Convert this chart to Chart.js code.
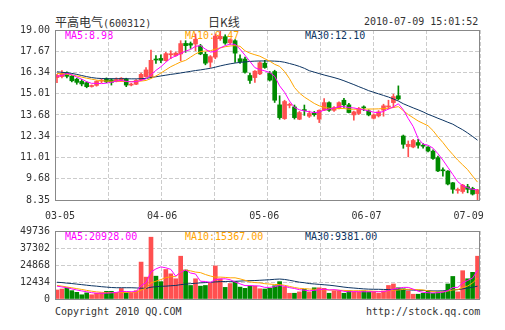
<!DOCTYPE html>
<html>
<head>
<meta charset="utf-8">
<script src="https://cdn.jsdelivr.net/npm/chart.js@4.4.0/dist/chart.umd.min.js"></script>
<style>
body { margin: 0; background: #fff; }
#wrap { position: relative; width: 505px; height: 330px; overflow: hidden;
        font-family: "DejaVu Sans Mono", monospace; font-size: 10px; color: #333; }
.t { position: absolute; white-space: nowrap; line-height: 12px; }
.cjk { font-family: "Noto Sans CJK SC", sans-serif; font-size: 12px; }
canvas { position: absolute; left: 0; }
</style>
</head>
<body>
<div id="wrap">
  <div class="t" style="left:55px; top:16px;"><span class="cjk">平高电气</span>(600312)</div>
  <div class="t cjk" style="left:208px; top:16px;">日K线</div>
  <div class="t" style="left:364px; top:16px;">2010-07-09 15:01:52</div>

  <div class="t" id="pMa5" style="left:65px; top:30px; color:#ff00ff;"></div>
  <div class="t" id="pMa10" style="left:185px; top:30px; color:#ffa500;"></div>
  <div class="t" id="pMa30" style="left:305px; top:30px; color:#0c3462;"></div>

  <div class="t" id="vMa5" style="left:65px; top:231px; color:#ff00ff;"></div>
  <div class="t" id="vMa10" style="left:185px; top:231px; color:#ffa500;"></div>
  <div class="t" id="vMa30" style="left:305px; top:231px; color:#0c3462;"></div>

  <div class="t" style="left:55px; top:306px;">Copyright 2010 QQ.COM</div>
  <div class="t" style="left:366px; top:306px;">http://stock.qq.com</div>

  <canvas id="price" width="505" height="226" style="top:0;"></canvas>
  <canvas id="vol" width="505" height="90" style="top:220px;"></canvas>
</div>
<script>
// daily candles 2010-03-05 .. 2010-07-09
var opens = [16.02, 16.08, 16.32, 16.11, 15.92, 15.78, 15.70, 15.46, 15.53, 15.80,
             15.95, 15.88, 15.78, 15.84, 15.92, 15.55, 15.60, 15.88, 16.08, 16.08,
             17.18, 17.22, 17.08, 17.45, 17.40, 17.50, 18.16, 18.15, 18.12, 18.00,
             17.48, 16.98, 17.30, 18.45, 18.58, 18.20, 18.33, 17.20, 17.18, 16.15,
             16.02, 16.25, 16.92, 16.28, 16.40, 14.31, 13.45, 14.28, 14.18, 13.41,
             13.99, 13.60, 13.80, 13.41, 13.97, 14.45, 13.97, 14.10, 14.60, 14.31,
             13.68, 13.77, 14.16, 13.93, 13.47, 13.62, 13.98, 14.18, 14.45, 14.88,
             12.36, 11.70, 11.67, 11.95, 11.75, 11.66, 11.41, 11.00, 10.24, 10.16,
             9.43, 8.95, 8.88, 9.18, 9.07, 8.75];
var highs = [16.22, 16.45, 16.38, 16.15, 15.98, 15.90, 15.75, 15.56, 15.82, 15.95,
             16.00, 15.95, 16.00, 16.02, 15.98, 15.66, 15.90, 16.30, 16.65, 17.74,
             17.40, 17.45, 17.60, 17.70, 17.62, 18.33, 18.33, 18.25, 18.75, 18.10,
             17.60, 17.40, 18.75, 19.00, 18.70, 18.45, 18.40, 17.45, 17.30, 16.28,
             16.45, 17.02, 17.10, 16.40, 16.48, 14.88, 14.60, 14.42, 14.30, 13.90,
             14.30, 13.92, 13.90, 14.00, 14.70, 14.50, 14.20, 14.50, 14.72, 14.40,
             13.92, 14.15, 14.25, 14.00, 13.75, 13.95, 14.35, 14.60, 14.98, 15.50,
             12.42, 12.05, 12.15, 12.15, 11.88, 11.70, 11.50, 11.10, 10.37, 10.20,
             9.45, 9.10, 9.33, 9.33, 9.15, 9.02];
var lows = [15.70, 16.00, 16.00, 15.75, 15.60, 15.50, 15.38, 15.42, 15.48, 15.70,
            15.70, 15.55, 15.75, 15.78, 15.45, 15.50, 15.57, 15.85, 16.05, 16.00,
            16.90, 16.95, 17.05, 17.20, 17.35, 17.07, 17.60, 17.85, 17.70, 17.45,
            16.82, 16.66, 17.20, 18.35, 18.10, 18.10, 16.97, 16.90, 16.30, 15.65,
            15.72, 16.20, 16.60, 15.80, 14.46, 13.41, 13.40, 14.12, 13.42, 13.38,
            13.65, 13.52, 13.60, 13.20, 13.95, 13.90, 13.90, 14.05, 14.15, 13.80,
            13.35, 13.70, 13.95, 13.62, 13.42, 13.55, 13.60, 14.05, 14.14, 14.62,
            11.59, 11.05, 11.62, 11.60, 11.60, 11.36, 10.90, 10.12, 9.85, 9.30,
            8.77, 8.77, 8.77, 8.80, 8.66, 8.35];
var closes = [16.15, 16.28, 16.10, 15.82, 15.72, 15.62, 15.45, 15.52, 15.78, 15.84,
              15.75, 15.72, 15.90, 15.98, 15.55, 15.60, 15.84, 16.22, 16.50, 17.10,
              17.12, 17.10, 17.52, 17.50, 17.55, 18.15, 18.02, 18.05, 18.42, 17.50,
              16.92, 17.33, 18.62, 18.60, 18.18, 18.40, 17.55, 17.02, 16.35, 15.84,
              16.42, 16.95, 16.65, 15.86, 14.60, 13.51, 14.52, 14.32, 13.51, 13.83,
              13.95, 13.77, 13.70, 13.97, 14.45, 13.97, 14.14, 14.45, 14.31, 13.83,
              13.87, 14.08, 14.12, 13.68, 13.68, 13.87, 14.25, 14.22, 14.83, 14.68,
              11.84, 11.84, 12.08, 11.78, 11.72, 11.42, 10.95, 10.17, 10.18, 9.35,
              9.02, 8.99, 9.28, 9.02, 8.72, 8.98];
var ma5 = [16.10, 16.15, 16.28, 16.20, 16.05, 15.92, 15.76, 15.66, 15.66, 15.64,
           15.67, 15.72, 15.80, 15.84, 15.78, 15.75, 15.77, 15.84, 15.94, 16.20,
           16.47, 16.70, 16.98, 17.24, 17.37, 17.52, 17.68, 17.78, 17.98, 18.02,
           17.80, 17.62, 17.65, 17.88, 18.02, 18.12, 18.10, 17.80, 17.42, 17.03,
           16.64, 16.52, 16.44, 16.34, 16.10, 15.50, 15.10, 14.55, 14.15, 14.00,
           13.93, 13.88, 13.82, 13.86, 13.98, 14.05, 14.10, 14.20, 14.20, 14.14,
           14.12, 14.05, 14.00, 13.93, 13.85, 13.82, 13.90, 14.05, 14.18, 14.38,
           14.00, 13.45, 12.95, 12.20, 11.85, 11.78, 11.60, 11.25, 10.85, 10.40,
           9.95, 9.50, 9.25, 9.12, 9.02, 8.98];
var ma10 = [16.28, 16.25, 16.22, 16.18, 16.12, 16.05, 15.98, 15.92, 15.86, 15.82,
            15.80, 15.79, 15.78, 15.78, 15.77, 15.77, 15.78, 15.80, 15.84, 15.96,
            16.12, 16.30, 16.50, 16.70, 16.85, 17.00, 17.10, 17.30, 17.50, 17.65,
            17.68, 17.70, 17.80, 17.88, 17.95, 18.00, 18.02, 17.98, 17.70, 17.55,
            17.45, 17.36, 17.20, 17.05, 16.85, 16.72, 16.40, 15.95, 15.40, 15.05,
            14.80, 14.60, 14.40, 14.25, 14.15, 14.10, 14.06, 14.08, 14.08, 14.04,
            14.04, 14.04, 14.04, 14.05, 14.05, 14.06, 14.08, 14.10, 14.14, 14.20,
            13.95, 13.70, 13.50, 13.30, 13.15, 13.00, 12.70, 12.30, 11.95, 11.55,
            11.20, 10.85, 10.55, 10.25, 9.85, 9.47];
var ma30 = [16.38, 16.35, 16.32, 16.28, 16.22, 16.15, 16.08, 16.02, 15.98, 15.96,
            15.95, 15.95, 15.95, 15.95, 15.95, 15.94, 15.94, 15.95, 15.97, 16.02,
            16.07, 16.12, 16.17, 16.22, 16.26, 16.31, 16.36, 16.41, 16.46, 16.50,
            16.55, 16.60, 16.67, 16.75, 16.82, 16.88, 16.93, 16.97, 17.00, 17.03,
            17.05, 17.06, 17.06, 17.06, 17.05, 17.03, 16.98, 16.90, 16.82, 16.72,
            16.60, 16.45, 16.36, 16.27, 16.18, 16.10, 16.02, 15.93, 15.82, 15.70,
            15.58, 15.45, 15.33, 15.20, 15.10, 15.00, 14.90, 14.80, 14.68, 14.55,
            14.38, 14.25, 14.12, 14.00, 13.87, 13.72, 13.60, 13.47, 13.35, 13.22,
            13.10, 12.92, 12.75, 12.55, 12.33, 12.10];

var volumes = [6600, 7300, 8000, 6100, 4900, 3100, 4500, 3100, 4200, 4500,
               5600, 5600, 4500, 7700, 4500, 4500, 6100, 27000, 16000, 45200,
               16700, 12700, 21600, 18400, 14800, 31300, 21200, 9900, 14800, 9400,
               9900, 11800, 24200, 14800, 8500, 11300, 12700, 8700, 7800, 9400,
               9400, 7500, 7300, 7800, 9700, 12700, 8900, 4200, 4200, 5200,
               7000, 5200, 8200, 8200, 7800, 4200, 5900, 5900, 4200, 5900,
               5200, 5200, 5900, 5200, 5200, 4200, 5900, 9900, 11000, 8200,
               7500, 5900, 3500, 3500, 4200, 5900, 4200, 5200, 5200, 11000,
               16500, 5200, 20700, 14800, 19500, 31300];
var volMa5 = [9400, 8800, 8240, 7400, 6600, 5900, 5300, 4600, 4240, 4240,
              4240, 4500, 4800, 5500, 5500, 5300, 5400, 9800, 12000, 19800,
              22000, 23500, 22800, 21700, 16700, 19600, 21200, 19000, 18300, 13000,
              12800, 12100, 14100, 14600, 14800, 14100, 12400, 11100, 9800, 9800,
              9600, 9500, 8500, 8500, 9000, 9900, 9300, 8300, 7700, 6800,
              6400, 6000, 6300, 6800, 7200, 6600, 6800, 6400, 5600, 5300,
              5400, 5300, 5300, 5300, 5300, 5300, 5400, 6100, 7300, 7800,
              8500, 8500, 7200, 5700, 4900, 4600, 4400, 4600, 5000, 6100,
              8400, 8500, 11700, 13600, 15300, 20928];
var volMa10 = [9900, 9400, 8800, 8200, 7600, 7000, 6300, 5700, 5200, 4900,
               4700, 4700, 4700, 4700, 4800, 4800, 4900, 6500, 7900, 11800,
               13000, 14200, 15600, 16300, 16400, 20000, 21200, 20600, 19700, 19300,
               17900, 16800, 16000, 16000, 15800, 15500, 15500, 14700, 13700, 12500,
               12000, 11800, 11200, 10900, 10600, 10600, 10000, 9200, 8400, 7800,
               7600, 7300, 7100, 6900, 6700, 6600, 6500, 6400, 6300, 6100,
               6000, 6100, 6000, 5900, 5700, 5500, 5500, 5900, 6400, 6600,
               7000, 7100, 7000, 6800, 6600, 6000, 5400, 5000, 5200, 5800,
               6600, 6800, 8400, 9500, 11700, 15367];
var volMa30 = [12250, 12000, 11600, 11300, 10900, 10500, 10100, 9700, 9400, 9000,
               8700, 8400, 8240, 8240, 8240, 8240, 8100, 7900, 7800, 8600,
               9000, 9300, 9400, 9700, 9900, 10500, 10900, 11200, 11500, 11800,
               12000, 12200, 12500, 12700, 12800, 12900, 12950, 13100, 13300, 13400,
               13500, 13700, 13900, 14100, 14400, 14600, 14300, 13700, 13000, 12300,
               11900, 11300, 11000, 10700, 10400, 10100, 9700, 9200, 8700, 8300,
               8000, 7700, 7400, 7200, 7100, 7100, 7000, 6900, 6900, 6800,
               6800, 6700, 6500, 6400, 6300, 6100, 5900, 5900, 6000, 6200,
               6600, 6900, 7400, 8000, 8600, 9381];

var dateLabels = ['03-05', '04-06', '05-06', '06-07', '07-09'];
var priceTicks = ['19.00', '17.67', '16.34', '15.01', '13.68', '12.34', '11.01', '9.68', '8.35'];
var volTicks = ['49736', '37302', '24868', '12434', '0'];

var RED = '#ff5050', GREEN = '#008a00';
var MAGENTA = '#ff00ff', ORANGE = '#ffa500', NAVY = '#0c3462';
var GRID = '#cccccc';
var FONT = { family: '"DejaVu Sans Mono", monospace', size: 10 };
var last = closes.length - 1;

document.getElementById('pMa5').textContent = 'MA5:' + ma5[last].toFixed(2);
document.getElementById('pMa10').textContent = 'MA10:' + ma10[last].toFixed(2);
document.getElementById('pMa30').textContent = 'MA30:' + ma30[last].toFixed(2);
document.getElementById('vMa5').textContent = 'MA5:' + volMa5[last].toFixed(2);
document.getElementById('vMa10').textContent = 'MA10:' + volMa10[last].toFixed(2);
document.getElementById('vMa30').textContent = 'MA30:' + volMa30[last].toFixed(2);

var colors = closes.map((c, i) => c >= opens[i] ? RED : GREEN);
var pts = arr => arr.map((v, i) => ({ x: i, y: v }));

const frame = {
    id: 'frame',
    afterDraw(chart) {
        const { ctx, chartArea: a } = chart;
        ctx.save();
        ctx.strokeStyle = '#888';
        ctx.lineWidth = 1;
        ctx.strokeRect(Math.round(a.left) + 0.5, Math.round(a.top) + 0.5,
                       Math.round(a.right - a.left) - 1, Math.round(a.bottom - a.top));
        ctx.restore();
    }
};

function maLine(arr, color) {
    return { type: 'line', data: pts(arr), borderColor: color, borderWidth: 1,
             pointRadius: 0, tension: 0, order: 0 };
}

// vertical grid: 8 equal columns
function gridX() {
    return {
        type: 'linear', min: -0.4, max: 85.5, offset: false,
        afterBuildTicks: s => {
            s.ticks = [...Array(9)].map((_, k) => ({ value: s.min + k * (s.max - s.min) / 8 }));
        },
        ticks: { display: false },
        grid: { color: GRID, drawTicks: false, offset: false },
        border: { display: false, dash: [4, 2] },
        afterFit: s => { s.height = 0; }
    };
}

function gridY(min, max, labels) {
    return {
        min: min, max: max,
        afterBuildTicks: s => {
            s.ticks = labels.map((_, k) => ({ value: max - k * (max - min) / (labels.length - 1) }));
        },
        ticks: { callback: (v, k) => labels[k], color: '#333', font: FONT, padding: 5, autoSkip: false },
        grid: { color: GRID, drawTicks: false },
        border: { display: false, dash: [4, 2] },
        afterFit: s => { s.width = 55; }
    };
}

const common = {
    responsive: false,
    animation: false,
    plugins: { legend: { display: false }, tooltip: { enabled: false } }
};

new Chart('price', {
    type: 'bar',
    data: {
        datasets: [
            maLine(ma5, MAGENTA),
            maLine(ma10, ORANGE),
            maLine(ma30, NAVY),
            { type: 'bar', data: closes.map((c, i) => ({ x: i, y: [opens[i], c] })),
              backgroundColor: colors, barThickness: 4, minBarLength: 1, grouped: false, order: 1 },
            { type: 'bar', data: closes.map((c, i) => ({ x: i, y: [lows[i], highs[i]] })),
              backgroundColor: colors, barThickness: 1, grouped: false, order: 2 }
        ]
    },
    options: Object.assign({}, common, {
        layout: { padding: { top: 30, right: 25, bottom: 0, left: 0 } },
        scales: {
            x: gridX(),
            x2: {
                type: 'linear', position: 'bottom', min: -0.4, max: 85.5, offset: false,
                afterBuildTicks: s => {
                    s.ticks = dateLabels.map((_, k) => ({ value: 0.6 + k * 20.65 }));
                },
                ticks: { callback: (v, k) => dateLabels[k], color: '#333', font: FONT,
                         padding: 10, autoSkip: false, maxRotation: 0 },
                grid: { display: false, drawTicks: false },
                border: { display: false },
                afterFit: s => { s.height = 26; }
            },
            y: gridY(8.35, 19.0, priceTicks)
        }
    }),
    plugins: [frame]
});

new Chart('vol', {
    type: 'bar',
    data: {
        datasets: [
            maLine(volMa5, MAGENTA),
            maLine(volMa10, ORANGE),
            maLine(volMa30, NAVY),
            { type: 'bar', data: volumes.map((v, i) => ({ x: i, y: v })),
              backgroundColor: colors, barThickness: 4, grouped: false, order: 1 }
        ]
    },
    options: Object.assign({}, common, {
        layout: { padding: { top: 10, right: 25, bottom: 10, left: 0 } },
        scales: {
            x: gridX(),
            y: gridY(0, 49736, volTicks)
        }
    }),
    plugins: [frame]
});
</script>
</body>
</html>
